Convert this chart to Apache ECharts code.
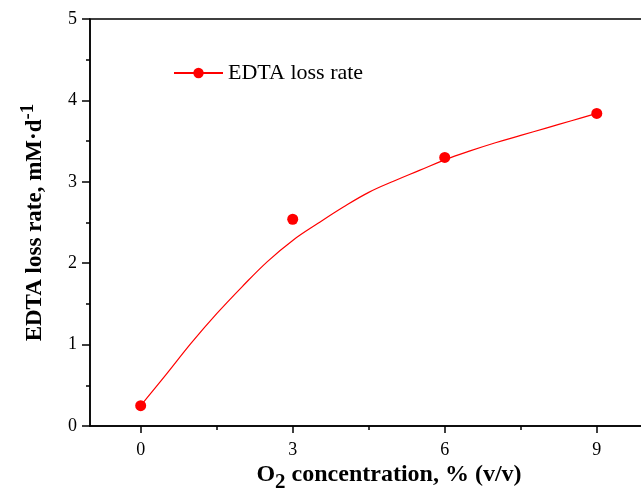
<!DOCTYPE html>
<html>
<head>
<meta charset="utf-8">
<script src="https://cdn.jsdelivr.net/npm/echarts@6/dist/echarts.min.js"></script>
<style>html,body{margin:0;padding:0;background:#fff}#c{width:641px;height:492px}</style>
</head>
<body>
<div id="c"></div>
<script>
// measured points
const o2Conc = [0, 3, 6, 9];
const lossRate = [0.25, 2.54, 3.30, 3.84];
// fitted curve
const curveX = [0, 0.5, 1, 1.5, 2, 2.5, 3, 3.5, 4, 4.5, 5, 5.5, 6, 6.5, 7, 7.5, 8, 8.5, 9];
const curveY = [0.25, 0.63, 1.02, 1.38, 1.71, 2.02, 2.28, 2.49, 2.69, 2.87, 3.01, 3.14, 3.27, 3.38, 3.48, 3.57, 3.66, 3.75, 3.84];
const xMajorTicks = [0, 3, 6, 9];
const xMinorTicks = [1.5, 4.5, 7.5];
const seriesName = 'EDTA loss rate';

const serif = '"Liberation Serif", "Times New Roman", serif';
const chart = echarts.init(document.getElementById('c'));
chart.setOption({
  animation: false,
  grid: { left: 90, top: 19, width: 598, bottom: 66, outerBoundsMode: 'none', containLabel: false, show: true, borderColor: '#000', borderWidth: 1.5, backgroundColor: 'transparent' },
  legend: {
    left: 173, top: 62, padding: 0, itemWidth: 49, itemHeight: 13, itemGap: 10,
    data: [seriesName],
    textStyle: { fontFamily: serif, fontSize: 22, color: '#000' }
  },
  xAxis: [{
    type: 'value', min: -1, max: 10.8,
    axisLine: { onZero: false, lineStyle: { color: '#000', width: 1.5 } },
    splitLine: { show: false },
    axisTick: { customValues: xMajorTicks, length: 7, lineStyle: { color: '#000', width: 1.5 } },
    axisLabel: { customValues: xMajorTicks, fontFamily: serif, fontSize: 18, color: '#000', margin: 15 },
    name: '{b|O}{sub|2}{b| concentration, % (v/v)}',
    nameLocation: 'middle', nameGap: 35, nameMoveOverlap: false,
    nameTextStyle: {
      rich: {
        b: { fontFamily: serif, fontSize: 24, fontWeight: 'bold', color: '#000', lineHeight: 28 },
        sub: { fontFamily: serif, fontSize: 21, fontWeight: 'bold', color: '#000', padding: [16, 0, 0, 0], lineHeight: 28 }
      }
    }
  }, {
    type: 'value', min: -1, max: 10.8, position: 'bottom',
    axisLine: { show: false, onZero: false }, splitLine: { show: false },
    axisTick: { customValues: xMinorTicks, length: 4, inside: false, lineStyle: { color: '#000', width: 1.5 } },
    axisLabel: { show: false }
  }],
  yAxis: {
    type: 'value', min: 0, max: 5, interval: 1,
    axisLine: { show: true, onZero: false, lineStyle: { color: '#000', width: 1.5 } },
    splitLine: { show: false },
    axisTick: { length: 8, lineStyle: { color: '#000', width: 1.5 } },
    minorTick: { show: true, splitNumber: 2, length: 4, lineStyle: { color: '#000', width: 1.5 } },
    axisLabel: { fontFamily: serif, fontSize: 18, color: '#000', margin: 13 },
    name: '{b|EDTA loss rate, mM·d}{sup|-1}',
    nameLocation: 'middle', nameGap: 41, nameRotate: 90,
    nameTextStyle: {
      rich: {
        b: { fontFamily: serif, fontSize: 23, fontWeight: 'bold', color: '#000', lineHeight: 28 },
        sup: { fontFamily: serif, fontSize: 19, fontWeight: 'bold', color: '#000', padding: [0, 0, 14, 0], lineHeight: 28 }
      }
    }
  },
  series: [{
    name: seriesName, type: 'line', xAxisIndex: 0,
    data: curveX.map((x, i) => [x, curveY[i]]),
    smooth: 0.4, symbol: 'circle', symbolSize: 11, showSymbol: false,
    lineStyle: { color: '#ff0000', width: 1.2 }, itemStyle: { color: '#ff0000', opacity: 1 }
  }, {
    name: seriesName, type: 'scatter', xAxisIndex: 0,
    data: o2Conc.map((x, i) => [x, lossRate[i]]),
    symbol: 'circle', symbolSize: 11,
    itemStyle: { color: '#ff0000', opacity: 1 }
  }]
});
</script>
</body>
</html>
